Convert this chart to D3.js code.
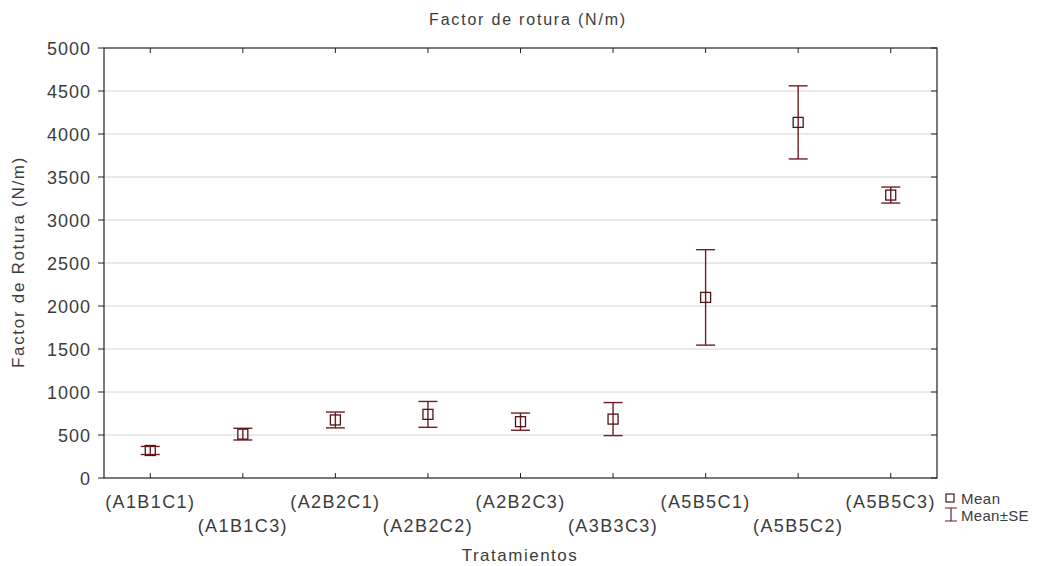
<!DOCTYPE html>
<html>
<head>
<meta charset="utf-8">
<script src="https://cdn.jsdelivr.net/npm/d3@7"></script>
<style>
  body { margin: 0; background: #fff; }
  text { font-family: "Liberation Sans", Arial, sans-serif; fill: #3c3c3c; }
</style>
</head>
<body>
<div id="chart"></div>
<script>
// data
const categories = ["(A1B1C1)", "(A1B1C3)", "(A2B2C1)", "(A2B2C2)", "(A2B2C3)", "(A3B3C3)", "(A5B5C1)", "(A5B5C2)", "(A5B5C3)"];
const means = [320, 510, 675, 740, 655, 685, 2100, 4135, 3290];
const se = [47, 68, 92, 150, 100, 192, 555, 425, 93];
const yTicks = [0, 500, 1000, 1500, 2000, 2500, 3000, 3500, 4000, 4500, 5000];

const width = 1059, height = 566;
const margin = {top: 48, right: 122, bottom: 88, left: 104};
const errColor = "#731c26", markColor = "#4a1618";

const svg = d3.select("#chart").append("svg")
  .attr("width", width)
  .attr("height", height);

const x = d3.scaleBand()
  .domain(categories)
  .range([margin.left, width - margin.right]);

const y = d3.scaleLinear()
  .domain([0, 5000])
  .range([height - margin.bottom, margin.top]);

const cx = d => x(d) + x.bandwidth() / 2;

// grid
svg.append("g")
  .selectAll("line")
  .data(yTicks.slice(1, -1))
  .join("line")
  .attr("x1", margin.left).attr("x2", width - margin.right)
  .attr("y1", d => y(d)).attr("y2", d => y(d))
  .attr("stroke", "#d4d4d4");

// frame
svg.append("rect")
  .attr("x", margin.left).attr("y", margin.top)
  .attr("width", width - margin.left - margin.right)
  .attr("height", height - margin.top - margin.bottom)
  .attr("fill", "none").attr("stroke", "#222").attr("stroke-width", 1.2);

// left ticks (outside) and labels
const yl = svg.append("g");
yl.selectAll("line").data(yTicks).join("line")
  .attr("x1", margin.left - 6).attr("x2", margin.left)
  .attr("y1", d => y(d)).attr("y2", d => y(d))
  .attr("stroke", "#222");
yl.selectAll("text").data(yTicks).join("text")
  .attr("x", margin.left - 13)
  .attr("y", d => y(d) + 7)
  .attr("text-anchor", "end")
  .attr("font-size", 18)
  .attr("letter-spacing", 1)
  .text(d => d);

// right ticks (inside)
svg.append("g").selectAll("line").data(yTicks).join("line")
  .attr("x1", width - margin.right - 6).attr("x2", width - margin.right)
  .attr("y1", d => y(d)).attr("y2", d => y(d))
  .attr("stroke", "#222");

// top/bottom ticks (inside)
const xt = svg.append("g");
xt.selectAll("line.b").data(categories).join("line")
  .attr("class", "b")
  .attr("x1", d => cx(d)).attr("x2", d => cx(d))
  .attr("y1", height - margin.bottom).attr("y2", height - margin.bottom - 5)
  .attr("stroke", "#222");
xt.selectAll("line.t").data(categories).join("line")
  .attr("class", "t")
  .attr("x1", d => cx(d)).attr("x2", d => cx(d))
  .attr("y1", margin.top).attr("y2", margin.top + 5)
  .attr("stroke", "#222");

// x labels, staggered
svg.append("g").selectAll("text").data(categories).join("text")
  .attr("x", d => cx(d))
  .attr("y", (d, i) => i % 2 ? 532 : 508)
  .attr("text-anchor", "middle")
  .attr("font-size", 18)
  .attr("letter-spacing", 1.4)
  .text(d => d);

// error bars
const eb = svg.append("g").attr("stroke", errColor).attr("stroke-width", 1.4).attr("fill", "none");
const cap = 9.5;
eb.selectAll("line.v").data(categories).join("line")
  .attr("class", "v")
  .attr("x1", d => cx(d)).attr("x2", d => cx(d))
  .attr("y1", (d, i) => y(means[i] + se[i]))
  .attr("y2", (d, i) => y(means[i] - se[i]));
eb.selectAll("line.u").data(categories).join("line")
  .attr("class", "u")
  .attr("x1", d => cx(d) - cap).attr("x2", d => cx(d) + cap)
  .attr("y1", (d, i) => y(means[i] + se[i]))
  .attr("y2", (d, i) => y(means[i] + se[i]));
eb.selectAll("line.l").data(categories).join("line")
  .attr("class", "l")
  .attr("x1", d => cx(d) - cap).attr("x2", d => cx(d) + cap)
  .attr("y1", (d, i) => y(means[i] - se[i]))
  .attr("y2", (d, i) => y(means[i] - se[i]));

// mean markers
svg.append("g").selectAll("rect").data(categories).join("rect")
  .attr("x", d => cx(d) - 5)
  .attr("y", (d, i) => y(means[i]) - 5)
  .attr("width", 10).attr("height", 10)
  .attr("fill", "none")
  .attr("stroke", markColor)
  .attr("stroke-width", 1.3);

// titles
svg.append("text")
  .attr("x", 528).attr("y", 25)
  .attr("text-anchor", "middle")
  .attr("font-size", 16)
  .attr("letter-spacing", 1.8)
  .text("Factor de rotura (N/m)");

svg.append("text")
  .attr("transform", "translate(24,262) rotate(-90)")
  .attr("text-anchor", "middle")
  .attr("font-size", 17)
  .attr("letter-spacing", 1.7)
  .text("Factor de Rotura (N/m)");

svg.append("text")
  .attr("x", 520).attr("y", 561)
  .attr("text-anchor", "middle")
  .attr("font-size", 17)
  .attr("letter-spacing", 1.5)
  .text("Tratamientos");

// legend
const lg = svg.append("g");
lg.append("rect")
  .attr("x", 946).attr("y", 494).attr("width", 8).attr("height", 8)
  .attr("fill", "none").attr("stroke", markColor).attr("stroke-width", 1.2);
lg.append("text").attr("x", 961).attr("y", 504)
  .attr("font-size", 15).attr("letter-spacing", 0.5).text("Mean");
lg.append("path")
  .attr("d", "M945,508H957M951,508V521M945,521H957")
  .attr("fill", "none").attr("stroke", errColor).attr("stroke-width", 1.2);
lg.append("text").attr("x", 961).attr("y", 521)
  .attr("font-size", 15).attr("letter-spacing", 0.3).text("Mean±SE");
</script>
</body>
</html>
